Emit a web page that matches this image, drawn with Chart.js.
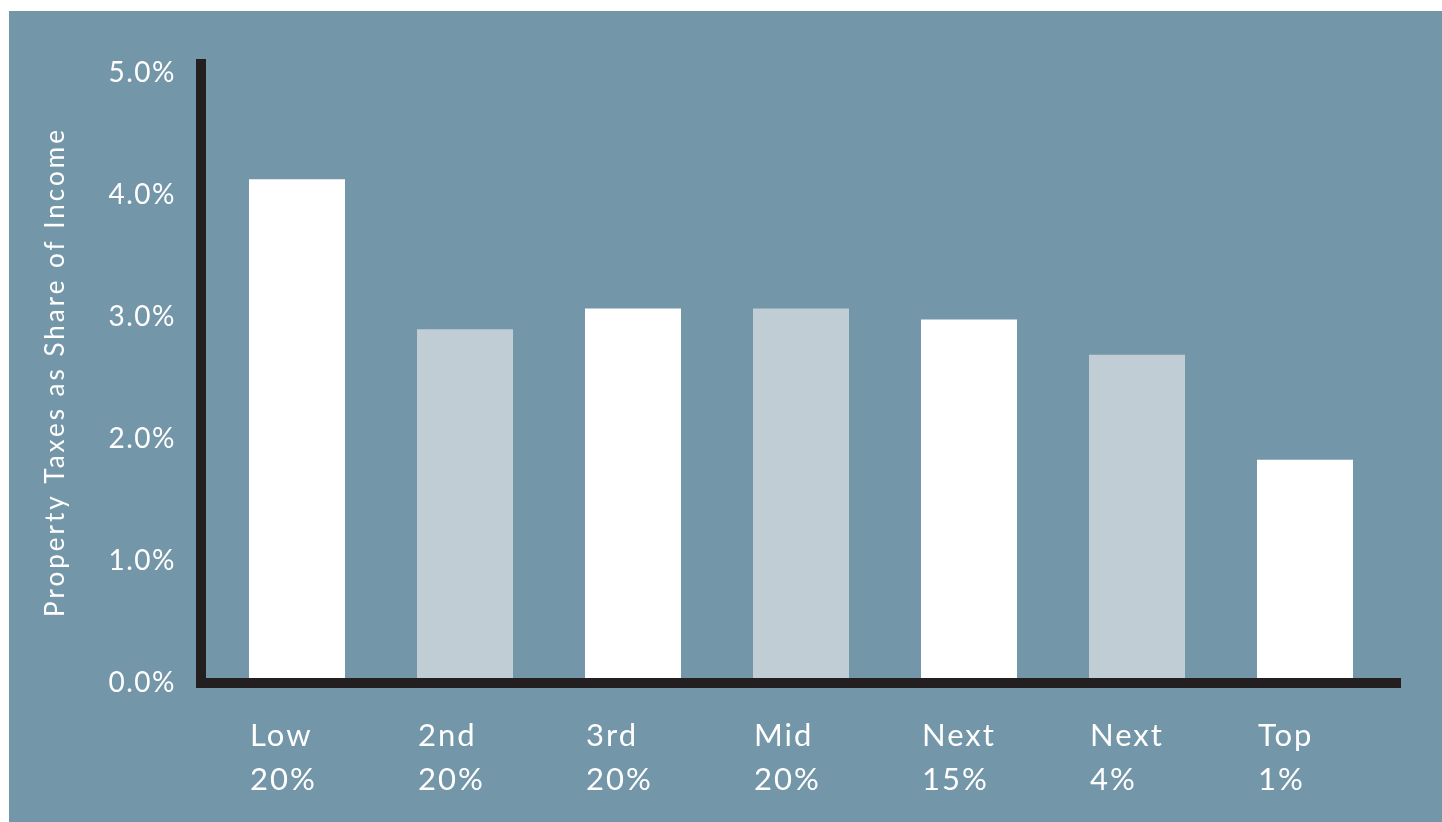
<!DOCTYPE html>
<html>
<head>
<meta charset="utf-8">
<script src="https://cdn.jsdelivr.net/npm/chart.js@4/dist/chart.umd.min.js"></script>
<style>
  html, body { margin: 0; padding: 0; background: #ffffff; }
  #panel { position: absolute; left: 9px; top: 11px; width: 1433px; height: 811px; background: #7397a9; }
</style>
</head>
<body>
<div id="panel"><canvas id="barChart"></canvas></div>
<script>
// data
var groupNames = ["Low", "2nd", "3rd", "Mid", "Next", "Next", "Top"];
var groupShares = ["20%", "20%", "20%", "20%", "15%", "4%", "1%"];
var taxShare = [4.13, 2.90, 3.07, 3.07, 2.98, 2.69, 1.83];
var yTicks = [0, 1, 2, 3, 4, 5];
var yTitle = "Property Taxes as Share of Income";
var barColors = ["#ffffff", "#c0cdd5", "#ffffff", "#c0cdd5", "#ffffff", "#c0cdd5", "#ffffff"];

var FONT = "Lato, 'Open Sans', sans-serif";

// black L-shaped axes, y title and two-line category labels aligned to bar left edge
var axesAndLabels = {
  id: 'axesAndLabels',
  beforeDraw: function (chart) {
    chart.ctx.letterSpacing = '1.5px';
  },
  afterDatasetsDraw: function (chart) {
    var ctx = chart.ctx, a = chart.chartArea, xs = chart.scales.x;
    ctx.save();
    ctx.fillStyle = '#231f20';
    ctx.fillRect(a.left - 17, a.top - 14, 10, a.bottom - a.top + 19);
    ctx.fillRect(a.left - 17, a.bottom - 5, a.right - a.left + 29, 10);

    var half = xs.width / groupNames.length * 0.5714 / 2;
    ctx.fillStyle = '#ffffff';
    ctx.letterSpacing = '2px';
    ctx.font = '31px ' + FONT;
    ctx.textAlign = 'left';
    ctx.textBaseline = 'alphabetic';
    for (var i = 0; i < groupNames.length; i++) {
      var x = xs.getPixelForValue(i) - half + 1;
      ctx.fillText(groupNames[i], x, a.bottom + 63);
      ctx.fillText(groupShares[i], x, a.bottom + 107);
    }

    // rotated axis title
    ctx.translate(55, (a.top + a.bottom) / 2 - 6);
    ctx.rotate(-Math.PI / 2);
    ctx.letterSpacing = '3px';
    ctx.font = '26px ' + FONT;
    ctx.textAlign = 'center';
    ctx.fillText(yTitle, 0, 0);
    ctx.restore();
  },
  afterDraw: function (chart) {
    chart.ctx.letterSpacing = '0px';
  }
};

var ctxB = document.getElementById("barChart").getContext('2d');
var myBarChart = new Chart(ctxB, {
  type: 'bar',
  data: {
    labels: groupNames,
    datasets: [{
      data: taxShare,
      backgroundColor: barColors,
      borderWidth: 0,
      categoryPercentage: 1,
      barPercentage: 0.5714
    }]
  },
  options: {
    responsive: true,
    maintainAspectRatio: false,
    animation: false,
    layout: { padding: { left: 0, right: 53, top: 62, bottom: 139 } },
    plugins: { legend: { display: false }, tooltip: { enabled: false } },
    scales: {
      x: {
        display: false
      },
      y: {
        min: 0,
        max: 5,
        afterBuildTicks: function (s) { s.ticks = yTicks.map(function (v) { return { value: v }; }); },
        afterFit: function (s) { s.width = 204; },
        grid: { display: false, drawTicks: false },
        border: { display: false },
        ticks: {
          color: '#ffffff',
          padding: 37,
          font: { family: FONT, size: 28 },
          callback: function (v) { return v.toFixed(1) + '%'; }
        }
      }
    }
  },
  plugins: [axesAndLabels]
});
</script>
</body>
</html>
